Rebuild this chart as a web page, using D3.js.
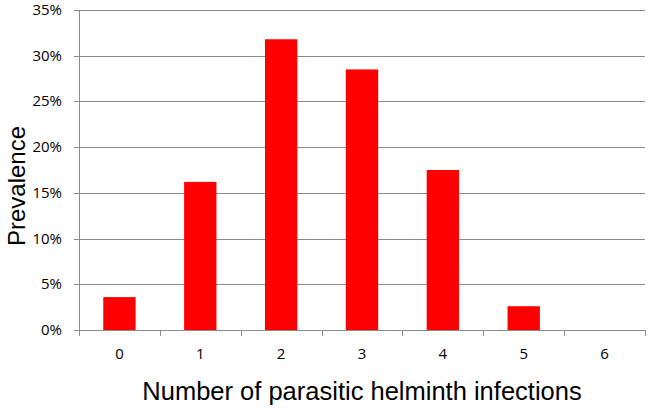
<!DOCTYPE html>
<html>
<head>
<meta charset="utf-8">
<script src="https://cdn.jsdelivr.net/npm/d3@7"></script>
<style>
  body { margin: 0; background: #fff; }
  svg { display: block; }
</style>
</head>
<body>
<svg width="648" height="409"></svg>
<script>
var svg = d3.select("svg");

var infections = ["0", "1", "2", "3", "4", "5", "6"];
var prevalence = [3.6, 16.2, 31.8, 28.5, 17.5, 2.6, 0];
var yTicks = [0, 5, 10, 15, 20, 25, 30, 35];

var margin = {left: 79, right: 3, top: 10, bottom: 79};
var width = 648, height = 409;

var xScale = d3.scaleBand().domain(infections).range([margin.left, width - margin.right]).padding(0);
var yScale = d3.scaleLinear().domain([0, 35]).range([height - margin.bottom, margin.top]);

// gridlines
svg.append("g")
  .selectAll("line")
  .data(yTicks)
  .join("line")
  .attr("x1", margin.left - 5)
  .attr("x2", width - margin.right)
  .attr("y1", function(d) { return Math.round(yScale(d)) + 0.5; })
  .attr("y2", function(d) { return Math.round(yScale(d)) + 0.5; })
  .attr("stroke", "#8c8c8c")
  .attr("stroke-width", 1);

// bars
var bw = xScale.bandwidth();
svg.append("g")
  .selectAll("rect")
  .data(prevalence)
  .join("rect")
  .attr("x", function(d, i) { return xScale(infections[i]) + bw * 0.3; })
  .attr("width", bw * 0.4)
  .attr("y", function(d) { return yScale(d); })
  .attr("height", function(d) { return yScale(0) - yScale(d); })
  .attr("fill", "#ff0000");

// y axis line
svg.append("line")
  .attr("x1", margin.left + 0.5).attr("x2", margin.left + 0.5)
  .attr("y1", yScale(35)).attr("y2", yScale(0))
  .attr("stroke", "#8c8c8c");

// y labels
svg.append("g")
  .selectAll("text")
  .data(yTicks)
  .join("text")
  .attr("x", margin.left - 17)
  .attr("y", function(d) { return yScale(d) + 5; })
  .attr("text-anchor", "end")
  .style("font-family", "'Open Sans', sans-serif")
  .style("font-size", "15px")
  .text(function(d) { return d + "%"; });

// x axis ticks at category boundaries
var bounds = infections.map(function(c) { return xScale(c); }).concat([width - margin.right]);
svg.append("g")
  .selectAll("line")
  .data(bounds)
  .join("line")
  .attr("x1", function(d) { return Math.round(d) + 0.5; })
  .attr("x2", function(d) { return Math.round(d) + 0.5; })
  .attr("y1", yScale(0))
  .attr("y2", yScale(0) + 6)
  .attr("stroke", "#8c8c8c");

// x labels
svg.append("g")
  .selectAll("text")
  .data(infections)
  .join("text")
  .attr("x", function(d) { return xScale(d) + bw / 2; })
  .attr("y", yScale(0) + 29)
  .attr("text-anchor", "middle")
  .style("font-family", "'Open Sans', sans-serif")
  .style("font-size", "15px")
  .text(function(d) { return d; });

// text label for the x axis
svg.append("text")
  .attr("x", (margin.left + width - margin.right) / 2)
  .attr("y", 400)
  .attr("text-anchor", "middle")
  .style("font-family", "'Liberation Sans', Arial, sans-serif")
  .style("font-size", "25.5px")
  .text("Number of parasitic helminth infections");

// text label for the y axis
svg.append("text")
  .attr("transform", "translate(25,186) rotate(-90)")
  .attr("text-anchor", "middle")
  .style("font-family", "'Liberation Sans', Arial, sans-serif")
  .style("font-size", "24px")
  .text("Prevalence");
</script>
</body>
</html>
